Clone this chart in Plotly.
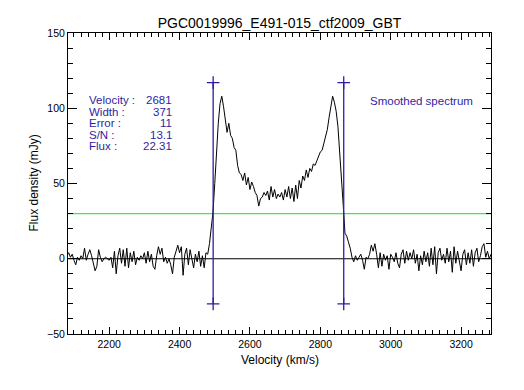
import numpy as np
import plotly.graph_objects as go

# ---------------- data ----------------
title_text = "PGC0019996_E491-015_ctf2009_GBT"
v_start = 2080.0   # km/s, first channel
v_step = 5.0       # km/s, channel width

flux = [
    2, 4, 1, 3, -1, -4, 1, -1, 2, 0,
    7, -1, 3, 6, 2, -4, -8, -5, 6, 1,
    -2, 0, 1, 0, -1, 1, -6, 5, -10, 2,
    7, -3, 6, -5, 7, -6, 4, -2, 5, -4,
    1, -1, 2, 0, 4, -3, 5, -2, 3, -5,
    -7, 2, 8, 3, 7, -2, 1, -3, 0, -4,
    -10, 1, 5, 9, 4, 8, -11, 3, 7, -4,
    6, 1, -6, 3, -2, 5, -5, 2, -6, 4,
    3, 10, 19, 31, 50, 72, 90, 103, 108, 101,
    93, 84, 90, 82, 80, 74, 72, 62, 57, 56,
    52, 57, 49, 54, 46, 51, 48, 44, 42, 35,
    40, 41, 44, 42, 45, 39, 48, 41, 46, 40,
    43, 41, 44, 39, 46, 41, 48, 40, 47, 38,
    49, 40, 52, 47, 55, 52, 59, 54, 60, 58,
    63, 62, 65, 68, 71, 72, 77, 81, 86, 94,
    102, 108, 104, 98, 88, 72, 52, 36, 17, 15,
    11, 7, 1, -2, 2, -1, 1, 3, -1, -7,
    1, 0, 3, 9, 5, 10, 3, -6, 4, -5,
    3, -1, 2, -7, 3, 1, -2, 4, -3, -6,
    3, 6, -3, 5, -1, 4, 0, 6, -3, 3,
    -8, 2, -4, 5, -2, 4, -5, 7, -4, 8,
    -10, 4, 7, -1, 3, -3, 7, -2, 5, -9,
    8, -3, 5, -2, -8, 3, 6, -4, 4, -3,
    6, -5, 4, 7, -2, 2, 8, 10, 1, 5,
    0, 3,
]
velocity = v_start + v_step * np.arange(len(flux))

vel_center = 2681
width_kms = 371
baseline = 0
threshold = 30          # green level (mJy)
marker_lo, marker_hi = -30, 117

stat_labels = ["Velocity :", "Width :", "Error :", "S/N :", "Flux :"]
stat_values = ["2681", "371", "11", "13.1", "22.31"]
legend_text = "Smoothed spectrum"

x_range = [2083, 3285]
y_range = [-50, 150]

# ---------------- style ----------------
FONT = "Liberation Sans"
BLUE = "#2f1ea3"
GREEN = "#44e844"
W, H = 516, 382   # page body has an 8px margin

fig = go.Figure()

fig.add_trace(go.Scatter(x=x_range, y=[threshold, threshold], mode="lines",
                         line=dict(color=GREEN, width=1.3), hoverinfo="skip"))
fig.add_trace(go.Scatter(x=x_range, y=[baseline, baseline], mode="lines",
                         line=dict(color="black", width=1), hoverinfo="skip"))
fig.add_trace(go.Scatter(x=velocity, y=flux, mode="lines",
                         line=dict(color="black", width=1)))

for v in (vel_center - width_kms / 2, vel_center + width_kms / 2):
    fig.add_trace(go.Scatter(x=[v, v], y=[marker_lo, marker_hi], mode="lines+markers",
                             line=dict(color=BLUE, width=1.3),
                             marker=dict(symbol="cross-thin", size=9,
                                         line=dict(color=BLUE, width=1.3))))

annotations = []
row_y = [0.7774, 0.7385, 0.7003, 0.6621, 0.6239]
for lab, val, yy in zip(stat_labels, stat_values, row_y):
    annotations.append(dict(x=0.0442, y=yy, xref="paper", yref="paper", text=lab,
                            showarrow=False, xanchor="left", yanchor="middle",
                            font=dict(family=FONT, size=11.5, color=BLUE)))
    annotations.append(dict(x=0.2506, y=yy, xref="paper", yref="paper", text=val,
                            showarrow=False, xanchor="right", yanchor="middle",
                            font=dict(family=FONT, size=11.5, color=BLUE)))
annotations.append(dict(x=0.710, y=0.774, xref="paper", yref="paper", text=legend_text,
                        showarrow=False, xanchor="left", yanchor="middle",
                        font=dict(family=FONT, size=11.5, color=BLUE)))
annotations.append(dict(x=0.5, y=-0.0864, xref="paper", yref="paper", text="Velocity (km/s)",
                        showarrow=False, xanchor="center", yanchor="middle",
                        font=dict(family=FONT, size=12, color="black")))
annotations.append(dict(x=-0.0827, y=0.5, xref="paper", yref="paper", text="Flux density (mJy)",
                        showarrow=False, xanchor="center", yanchor="middle", textangle=-90,
                        font=dict(family=FONT, size=12, color="black")))

axis_common = dict(showline=True, linecolor="black", linewidth=1, mirror="ticks",
                   ticks="inside", tickcolor="black", tickwidth=1,
                   showgrid=False, zeroline=False,
                   tickfont=dict(family=FONT, size=10.5, color="black"))

fig.update_layout(
    width=W, height=H,
    margin=dict(l=60, r=33, t=25, b=56),
    paper_bgcolor="white", plot_bgcolor="white",
    showlegend=False,
    title=dict(text=title_text, x=0.5, xref="paper", xanchor="center",
               y=1 - 15 / H, yref="container", yanchor="middle",
               font=dict(family=FONT, size=14, color="black")),
    xaxis=dict(range=x_range, tick0=2200, dtick=200, ticklen=7,
               minor=dict(dtick=20, ticks="inside", ticklen=4, tickcolor="black"),
               **axis_common),
    yaxis=dict(range=y_range, tick0=0, dtick=50, ticklen=9,
               minor=dict(dtick=10, ticks="inside", ticklen=5, tickcolor="black"),
               **axis_common),
    annotations=annotations,
)

fig.write_html("out.html")
